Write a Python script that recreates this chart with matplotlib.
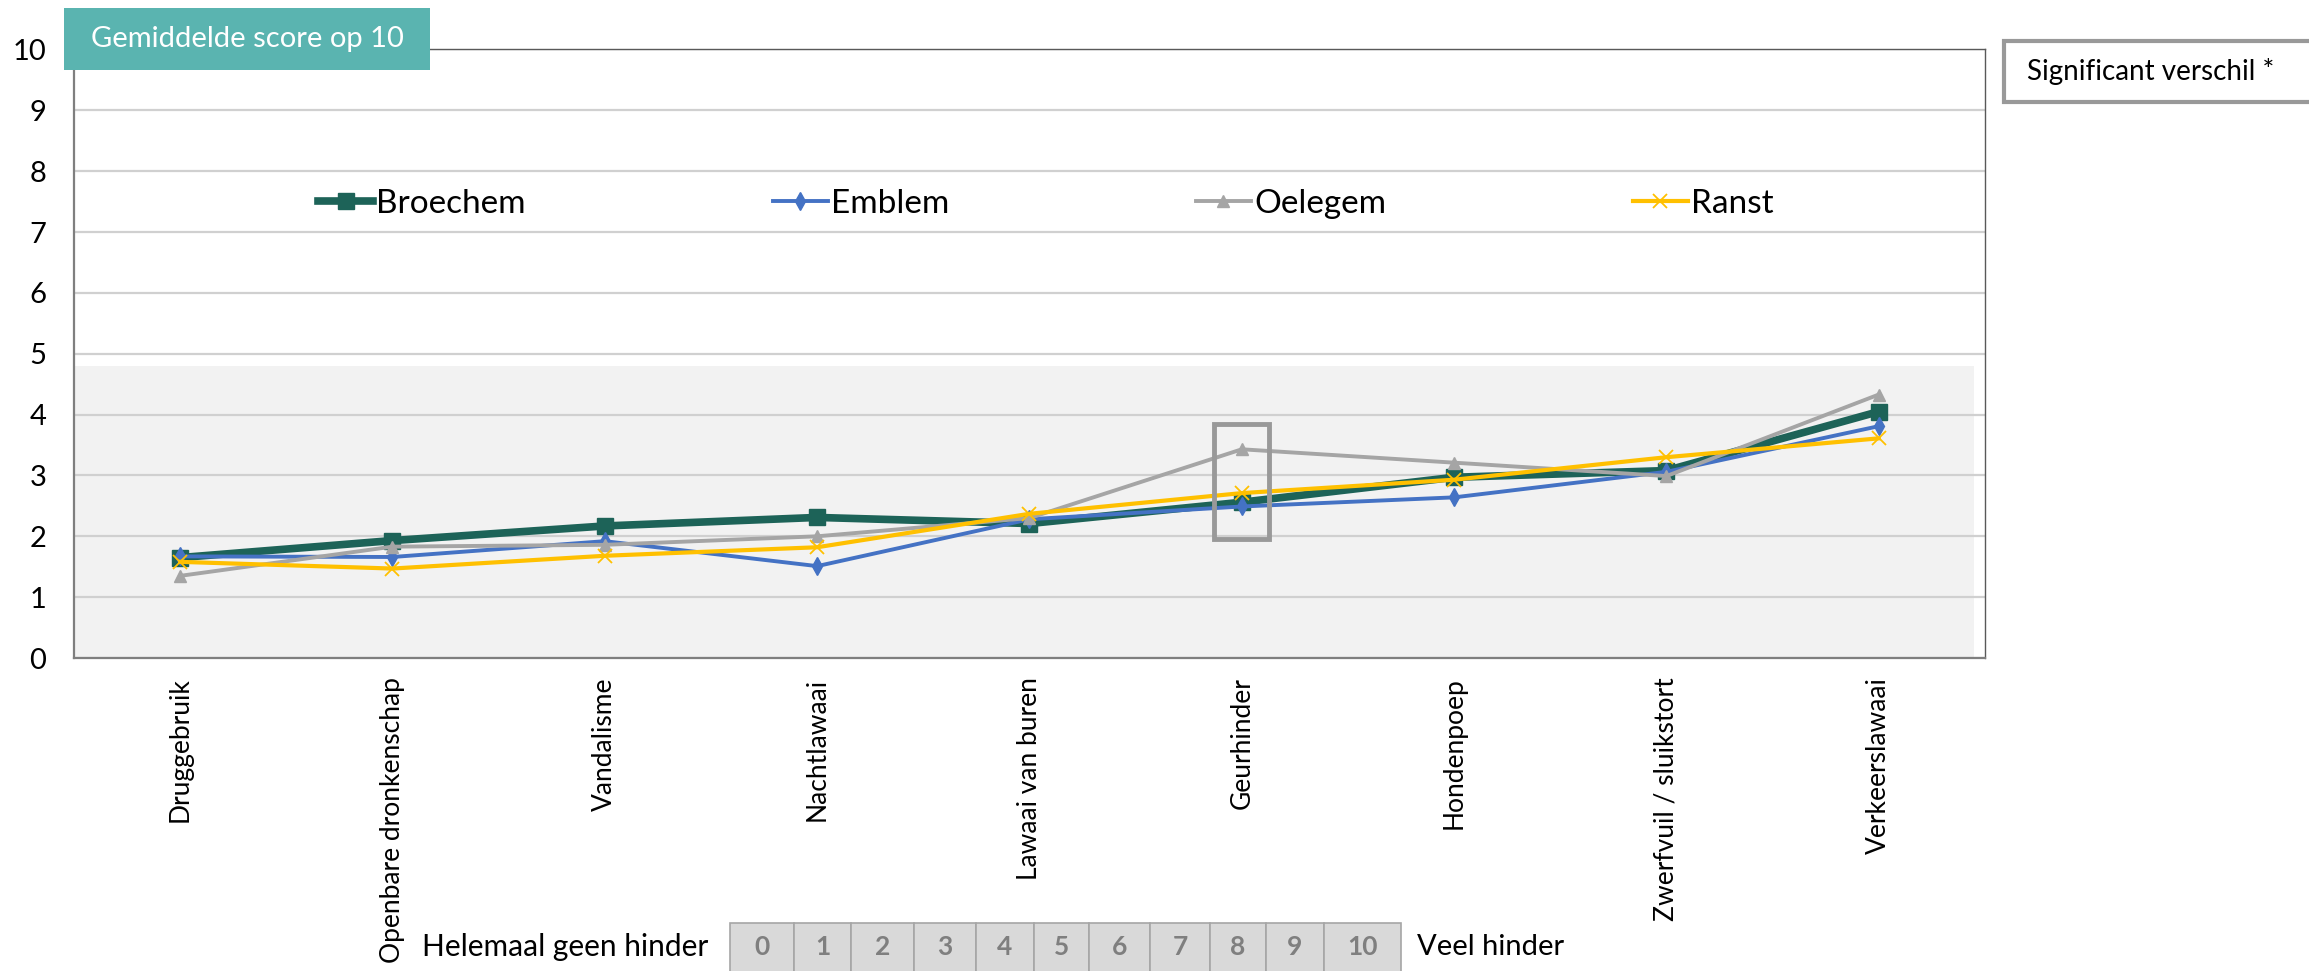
import matplotlib.pyplot as plt
from matplotlib.patches import Rectangle

plt.rcParams['font.family'] = ['Lato', 'DejaVu Sans']

categories = ['Druggebruik', 'Openbare dronkenschap', 'Vandalisme', 'Nachtlawaai',
              'Lawaai van buren', 'Geurhinder', 'Hondenpoep', 'Zwerfvuil / sluikstort',
              'Verkeerslawaai']
broechem = [1.65, 1.93, 2.17, 2.31, 2.21, 2.56, 2.97, 3.08, 4.05]
emblem = [1.67, 1.66, 1.92, 1.51, 2.28, 2.49, 2.64, 3.06, 3.81]
oelegem = [1.35, 1.83, 1.86, 2.00, 2.30, 3.43, 3.21, 2.99, 4.33]
ranst = [1.58, 1.47, 1.68, 1.82, 2.37, 2.71, 2.93, 3.30, 3.61]
significant = ['Geurhinder']
scale_labels = [str(i) for i in range(11)]

W, H = 2309, 971
fig = plt.figure(figsize=(W / 100, H / 100), dpi=100)
ax = fig.add_axes([74 / W, 1 - 658 / H, (1985 - 74) / W, (658 - 49.5) / H])

x = list(range(len(categories)))
ax.set_xlim(-0.5, len(categories) - 0.5)
ax.set_ylim(0, 10)

# grey band behind the low scores
ax.axhspan(0, 4.8, xmin=0, xmax=0.994, color='#F2F2F2', zorder=0.2, lw=0)
ax.set_axisbelow(True)
ax.set_yticks(range(11))
ax.yaxis.grid(True, color='#D0D0D0', lw=1.6)

ax.plot(x, broechem, color='#1D6358', lw=5.5, marker='s', ms=11, label='Broechem', zorder=3)
ax.plot(x, emblem, color='#4472C4', lw=2.8, marker='d', ms=9, label='Emblem', zorder=4)
ax.plot(x, oelegem, color='#A5A5A5', lw=2.8, marker='^', ms=9, label='Oelegem', zorder=5)
ax.plot(x, ranst, color='#FFC000', lw=3.0, marker='x', ms=10, mew=1.3, label='Ranst', zorder=6)

for cat in significant:
    i = categories.index(cat)
    ax.add_patch(Rectangle((i - 0.13, 1.95), 0.26, 1.9, fill=False, ec='#999999', lw=3.5, zorder=7))

ax.set_xticks(x)
ax.set_xticklabels(categories, rotation=90, fontsize=19)
ax.tick_params(axis='x', length=0, pad=14)
ax.tick_params(axis='y', length=0, pad=20, labelsize=21)

for s in ['left', 'bottom']:
    ax.spines[s].set_color('#7F7F7F')
    ax.spines[s].set_linewidth(1.6)
for s in ['top', 'right']:
    ax.spines[s].set_color('#595959')
    ax.spines[s].set_linewidth(1.0)

ax.legend(ncol=4, loc='center left', bbox_to_anchor=(0.1190, 0.746), frameon=False,
          fontsize=24, columnspacing=7.4, handlelength=1.65, handletextpad=0.1, borderpad=0)

# label box top left
fig.add_artist(Rectangle((64 / W, 1 - 70 / H), (430 - 64) / W, 62 / H,
                         transform=fig.transFigure, fc='#5AB4B0', ec='none'))
fig.text(247 / W, 1 - 39 / H, 'Gemiddelde score op 10', color='white', fontsize=21,
         ha='center', va='center')

# significance legend box
fig.add_artist(Rectangle((2004 / W, 1 - 102 / H), (2340 - 2004) / W, 61 / H,
                         transform=fig.transFigure, fc='white', ec='#999999', lw=3))
fig.text(2027 / W, 1 - 71.5 / H, 'Significant verschil *', fontsize=20, va='center')

# answer scale at the bottom
edges = [730, 794, 851, 914, 976, 1034, 1089, 1150, 1210, 1266, 1324, 1401]
for lab, x0, x1 in zip(scale_labels, edges[:-1], edges[1:]):
    fig.add_artist(Rectangle((x0 / W, 1 - 980 / H), (x1 - x0) / W, (980 - 923) / H,
                             transform=fig.transFigure, fc='#D9D9D9', ec='#A6A6A6', lw=1.2))
    fig.text((x0 + x1) / 2 / W, 1 - 947 / H, lab, fontsize=19, fontweight='bold',
             color='#7F7F7F', ha='center', va='center')
fig.text(708 / W, 1 - 947 / H, 'Helemaal geen hinder', fontsize=21.5, ha='right', va='center')
fig.text(1417 / W, 1 - 947 / H, 'Veel hinder', fontsize=21, ha='left', va='center')

fig.savefig('out.png', dpi=100)
